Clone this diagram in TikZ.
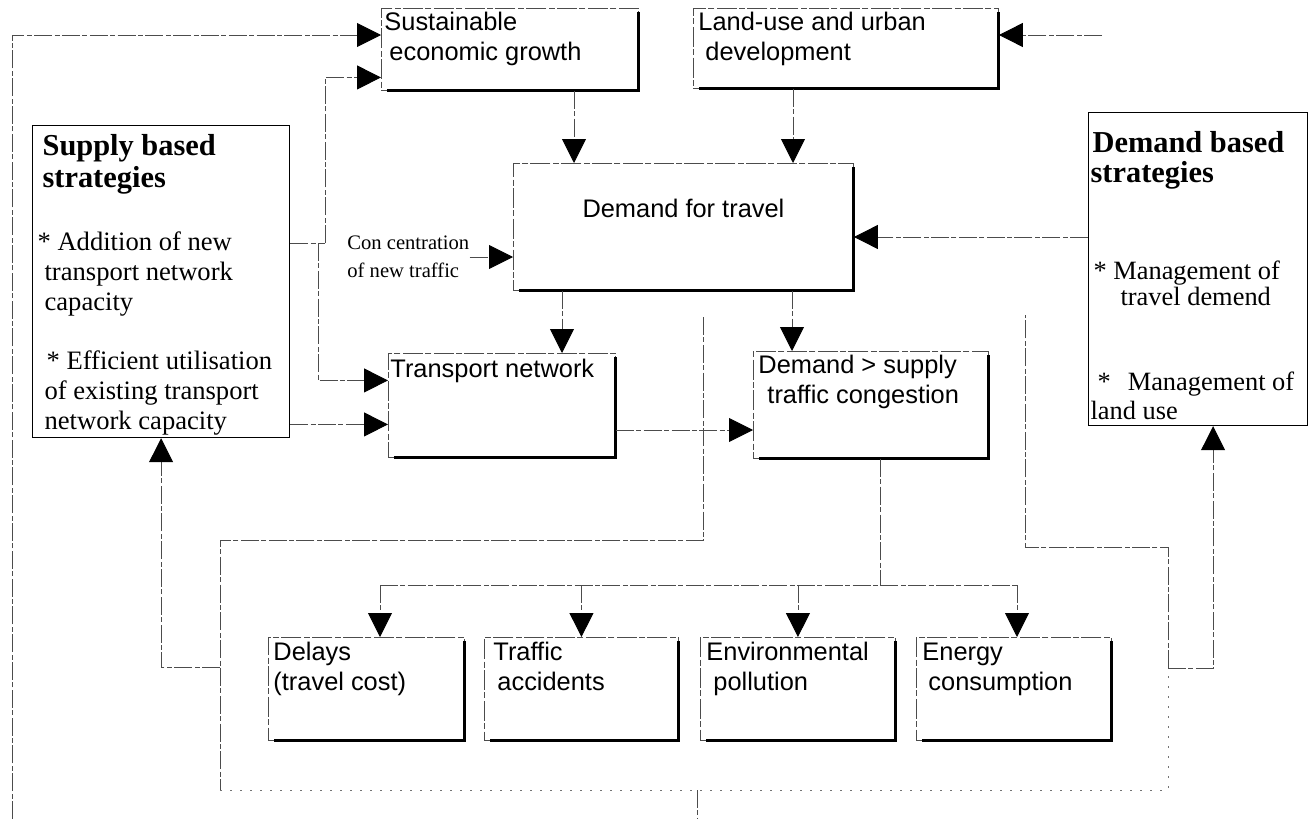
\documentclass[tikz,border=0pt]{standalone}
\usepackage{fontspec}
\setmainfont{Liberation Serif}
\setsansfont{Liberation Sans}
\usetikzlibrary{arrows.meta,calc}
\newcommand\bxfont{\sffamily\fontsize{12.7}{15}\selectfont}
\newcommand\bx[8]{\node[box] (#1) at (#2,#3) {\parbox[c][\dimexpr#5pt/2\relax][t]{\dimexpr#4pt/2\relax}{\raggedright\leftskip=#6pt\relax\rule{0pt}{#7pt}#8}};}
\newcommand\shad[1]{\draw[shadowline] ([yshift=-2pt]#1.north east) -- (#1.south east) -- ([xshift=3pt]#1.south west);}
\tikzset{
 box/.style={draw=black!70, line width=0.45pt, dash pattern=on 10pt off 1.2pt on 3pt off 1.2pt, inner sep=0pt, anchor=north west, font=\bxfont},
 sbox/.style={draw=black, line width=0.6pt, inner sep=0pt, anchor=north west},
 conn/.style={draw=black!70, line width=0.45pt, dash pattern=on 9pt off 1.2pt on 2.5pt off 1.2pt},
 faint/.style={draw=black!55, line width=0.45pt, dash pattern=on 1pt off 4pt},
 arr/.style={-{Triangle[length=12pt,width=12pt,black]}},
 shadowline/.style={draw=black, line width=1.5pt}
}
\begin{document}
\begin{tikzpicture}[x=0.5pt,y=-0.5pt]
\useasboundingbox (0,0) rectangle (1308,819);

% ---- boxes ----
\bx{S}{381}{8}{257}{82}{1.5}{11}{Sustainable\\\hspace*{2.5pt}economic growth}
\bx{L}{693}{8}{305}{80}{2.5}{11}{Land-use and urban\\\hspace*{3.5pt}development}
\node[box] (DT) at (513,163) {\parbox[c][63.5pt][t]{170pt}{\centering\rule{0pt}{27pt}Demand for travel}};
\bx{TN}{388}{353}{227}{104}{1}{12}{Transport network}
\bx{DS}{753}{351}{235}{107}{2.5}{11}{Demand > supply\\\hspace*{4.5pt}traffic congestion}
\bx{D}{268}{637}{196}{103}{2.5}{11.5}{Delays\\(travel cost)}
\bx{TA}{484}{637}{194}{103}{4.5}{11.5}{Traffic\\\hspace*{2pt}accidents}
\bx{EP}{700}{637}{195}{103}{3}{11.5}{Environmental\\\hspace*{3.5pt}pollution}
\bx{EC}{916}{637}{195}{103}{3}{11.5}{Energy\\\hspace*{3pt}consumption}
\foreach \n in {S,L,DT,TN,DS,D,TA,EP,EC} {\shad{\n}}

\node[sbox] (sup) at (32,125) {\parbox[c][156pt][t]{128.5pt}{\raggedright
{\fontsize{15.2}{16}\bfseries\selectfont\hspace*{5pt}\rule{0pt}{15pt}Supply based\\\hspace*{5pt}strategies\par}
\fontsize{13.3}{15}\selectfont
\vspace{16.5pt}
\hspace*{2.5pt}* Addition of new\\
\hspace*{6pt}transport network\\
\hspace*{6pt}capacity\\[14.5pt]
\hspace*{7pt}* Efficient utilisation\\
\hspace*{6pt}of existing transport\\
\hspace*{6pt}network capacity}};

\node[sbox] (DB) at (1088,112) {\parbox[c][156.5pt][t]{109.5pt}{\raggedright
{\fontsize{15.2}{15}\bfseries\selectfont\hspace*{2pt}\rule{0pt}{20pt}Demand based\\\hspace*{1pt}strategies\par}
\fontsize{13.2}{13}\selectfont
\vspace{35.5pt}
\hspace*{2.5pt}* Management of\\
\hspace*{16pt}travel demend\\[29.5pt]
\hspace*{4.5pt}*\hspace{8.5pt}Management of\\[1.5pt]
\hspace*{1pt}land use}};

\node[font=\fontsize{10.3}{14}\selectfont, align=left, inner sep=0pt, anchor=west] (conc) at (347,257) {Con centration\\of new traffic};

% ---- connectors ----
\coordinate (ob) at (12,819);
\coordinate (ot) at (12,35);
\draw[conn,arr] (ob) -- (ot) -- (ot -| S.west);

\coordinate (j1) at (325,243);
\coordinate (j2) at (318,243);
\draw[conn] (j1 -| sup.east) -- (j1);
\draw[conn,arr] (j1) |- ($(S.west)+(0,28)$);
\draw[conn,arr] (j2) |- ($(TN.west)+(0,-25)$);
\coordinate (tn2) at ($(TN.west)+(0,19)$);
\draw[conn,arr] (tn2 -| sup.east) -- (tn2);
\draw[conn,arr] (conc.east) -- (conc.east -| DT.west);

\coordinate (lr) at (1102,35);
\draw[conn,arr] (lr) -- (lr -| L.east);

\coordinate (xa) at (574,0);
\coordinate (xb) at (793,0);
\coordinate (xc) at (562,0);
\coordinate (xd) at (792,0);
\draw[conn,arr] (S.south -| xa) -- (DT.north -| xa);
\draw[conn,arr] (L.south -| xb) -- (DT.north -| xb);
\draw[conn,arr] (DT.south -| xc) -- (TN.north -| xc);
\draw[conn,arr] (DT.south -| xd) -- (DS.north -| xd);

\coordinate (ya) at (0,430);
\draw[conn,arr] (TN.east |- ya) -- (DS.west |- ya);
\coordinate (yb) at (0,237);
\draw[conn,arr] (DB.west |- yb) -- (DT.east |- yb);

\coordinate (bus) at (880,585);
\coordinate (bl) at (380,585);
\coordinate (br) at (1017,585);
\draw[conn] (DS.south -| bus) -- (bus);
\draw[conn] (bl) -- (br);
\draw[conn,arr] (bl) -- (bl |- D.north);
\draw[conn,arr] (TA.north |- bus) -- (TA.north);
\draw[conn,arr] (EP.north |- bus) -- (EP.north);
\draw[conn,arr] (br) -- (br |- EC.north);

% outline round congestion and its effects
\coordinate (o1) at (703,317);
\coordinate (o2) at (703,540);
\coordinate (o3) at (220,540);
\coordinate (o4) at (220,790);
\coordinate (o5) at (1168,790);
\coordinate (o6) at (1168,547);
\coordinate (o7) at (1025,547);
\coordinate (o8) at (1025,315);
\coordinate (o9) at (1168,668);
\draw[conn] (o1) -- (o2) -- (o3) -- (o4);
\draw[faint] (o4) -- (o5) -- (o9);
\draw[conn] (o9) -- (o6) -- (o7) -- (o8);

\coordinate (fl) at (220,667);
\draw[conn,arr] (fl) -| (sup.south);
\coordinate (fr2) at ($(DB.south)+(15,0)$);
\draw[conn,arr] (o9) -| (fr2);

\coordinate (bo1) at (697,790);
\coordinate (bo2) at (697,819);
\draw[conn] (bo1) -- (bo2);
\end{tikzpicture}
\end{document}
